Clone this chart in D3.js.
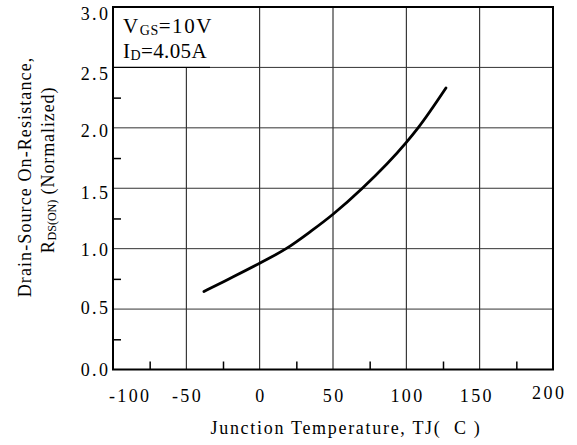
<!DOCTYPE html>
<html>
<head>
<meta charset="utf-8">
<script src="https://cdn.jsdelivr.net/npm/d3@7"></script>
<style>
  body { margin: 0; background: #fff; }
  svg { display: block; font-family: "Liberation Serif", "Times New Roman", serif; }
</style>
</head>
<body>
<svg id="chart"></svg>
<script>
// junction temperature (C) vs normalized Rds(on)
let tempC = [-38, -25, 0, 18, 35, 50, 70, 100, 108, 127];
let rdsNorm = [0.645, 0.725, 0.88, 1.0, 1.145, 1.285, 1.5, 1.88, 2.0, 2.33];

let xTicks = [-100, -50, 0, 50, 100, 150, 200];
let xMinor = [-75, -25, 25, 75, 125, 175];
let yTicks = [0.0, 0.5, 1.0, 1.5, 2.0, 2.5, 3.0];
let yMinor = [0.25, 0.75, 1.25, 1.75, 2.25, 2.75];

let width = 577;
let height = 445;
let plot = {left: 113, right: 553, top: 7, bottom: 369.5};

// the original's tick labels sit a little off their ticks
let xLabelNudge = {"-100": [16, 0], "150": [-4, 0], "200": [-5, -3]};
let yLabelNudge = {"3": 7, "2.5": 6, "2": 3, "1.5": 4, "1": 1, "0.5": -1};

let numSpacing = 2.4;

let svg = d3.select("#chart")
    .attr("width", width)
    .attr("height", height);

let xScale = d3.scaleLinear()
    .domain([-100, 200])
    .range([plot.left, plot.right]);

let yScale = d3.scaleLinear()
    .domain([0, 3])
    .range([plot.bottom, plot.top]);

// grid
svg.append("g")
    .selectAll("line")
    .data(xTicks.slice(1, -1))
    .enter()
    .append("line")
    .attr("x1", d => xScale(d))
    .attr("x2", d => xScale(d))
    .attr("y1", plot.top)
    .attr("y2", plot.bottom)
    .attr("stroke", "#111")
    .attr("stroke-width", 1);

svg.append("g")
    .selectAll("line")
    .data(yTicks.slice(1, -1))
    .enter()
    .append("line")
    .attr("x1", plot.left)
    .attr("x2", plot.right)
    .attr("y1", d => yScale(d))
    .attr("y2", d => yScale(d))
    .attr("stroke", "#333")
    .attr("stroke-width", 1);

// minor ticks, drawn inward
svg.append("g")
    .attr("transform", "translate(0," + plot.bottom + ")")
    .call(d3.axisTop(xScale).tickValues(xMinor).tickSize(8).tickFormat(""))
    .call(g => g.select(".domain").remove())
    .selectAll("line").attr("stroke", "#000").attr("stroke-width", 1.5);

svg.append("g")
    .attr("transform", "translate(" + plot.left + ",0)")
    .call(d3.axisRight(yScale).tickValues(yMinor).tickSize(8).tickFormat(""))
    .call(g => g.select(".domain").remove())
    .selectAll("line").attr("stroke", "#000").attr("stroke-width", 1.5);

// legend box covers the grid in the top-left corner
svg.append("rect")
    .attr("x", plot.left)
    .attr("y", plot.top)
    .attr("width", 97)
    .attr("height", yScale(2.5) - plot.top)
    .attr("fill", "#fff");

svg.append("line")
    .attr("x1", plot.left)
    .attr("x2", plot.left + 97)
    .attr("y1", yScale(2.5))
    .attr("y2", yScale(2.5))
    .attr("stroke", "#000")
    .attr("stroke-width", 1.2);

let leg1 = svg.append("text")
    .attr("x", plot.left + 10)
    .attr("y", 33)
    .style("font-size", "21px")
    .style("letter-spacing", "1.6px");
leg1.append("tspan").text("V");
leg1.append("tspan").attr("dy", 2).style("font-size", "14px").style("letter-spacing", "0.5px").text("GS");
leg1.append("tspan").attr("dy", -2).text("=10V");

let leg2 = svg.append("text")
    .attr("x", plot.left + 10)
    .attr("y", 58)
    .style("font-size", "21px")
    .style("letter-spacing", "0.4px");
leg2.append("tspan").text("I");
leg2.append("tspan").attr("dy", 2).style("font-size", "14px").text("D");
leg2.append("tspan").attr("dy", -2).text("=4.05A");

// frame
svg.append("rect")
    .attr("x", plot.left)
    .attr("y", plot.top)
    .attr("width", plot.right - plot.left)
    .attr("height", plot.bottom - plot.top)
    .attr("fill", "none")
    .attr("stroke", "#000")
    .attr("stroke-width", 2);

// curve
let line = d3.line()
    .x((d, i) => xScale(tempC[i]))
    .y(d => yScale(d))
    .curve(d3.curveMonotoneX);

svg.append("path")
    .datum(rdsNorm)
    .attr("d", line)
    .attr("fill", "none")
    .attr("stroke", "#000")
    .attr("stroke-width", 2.8)
    .attr("stroke-linecap", "round");

// tick labels
svg.append("g")
    .selectAll("text")
    .data(yTicks)
    .enter()
    .append("text")
    .attr("x", plot.left - 5 + numSpacing)
    .attr("y", d => yScale(d) + (yLabelNudge[d] || 0))
    .attr("dy", "0.35em")
    .attr("text-anchor", "end")
    .style("font-size", "18px")
    .style("letter-spacing", numSpacing + "px")
    .text(d => d3.format(".1f")(d));

svg.append("g")
    .selectAll("text")
    .data(xTicks)
    .enter()
    .append("text")
    .attr("x", d => xScale(d) + numSpacing / 2 + (xLabelNudge[d] ? xLabelNudge[d][0] : 0))
    .attr("y", d => plot.bottom + 32 + (xLabelNudge[d] ? xLabelNudge[d][1] : 0))
    .attr("text-anchor", "middle")
    .style("font-size", "18px")
    .style("letter-spacing", numSpacing + "px")
    .text(d => d);

// axis titles
svg.append("text")
    .attr("x", 346)
    .attr("y", 434)
    .attr("text-anchor", "middle")
    .style("font-size", "18px")
    .style("letter-spacing", "1.7px")
    .text("Junction Temperature, TJ(\u00a0\u00a0C )");

let yTitle = svg.append("g")
    .attr("transform", "translate(0,177)rotate(-90)");

yTitle.append("text")
    .attr("x", 0)
    .attr("y", 31)
    .attr("text-anchor", "middle")
    .style("font-size", "18px")
    .style("letter-spacing", "1.1px")
    .text("Drain-Source On-Resistance,");

let yt2 = yTitle.append("text")
    .attr("x", 7)
    .attr("y", 54)
    .attr("text-anchor", "middle")
    .style("font-size", "18px")
    .style("letter-spacing", "0.9px");
yt2.append("tspan").text("R");
yt2.append("tspan").attr("dy", 2).style("font-size", "12px").style("letter-spacing", "0px").text("DS(ON)");
yt2.append("tspan").attr("dy", -2).text(" (Normalized)");
</script>
</body>
</html>
